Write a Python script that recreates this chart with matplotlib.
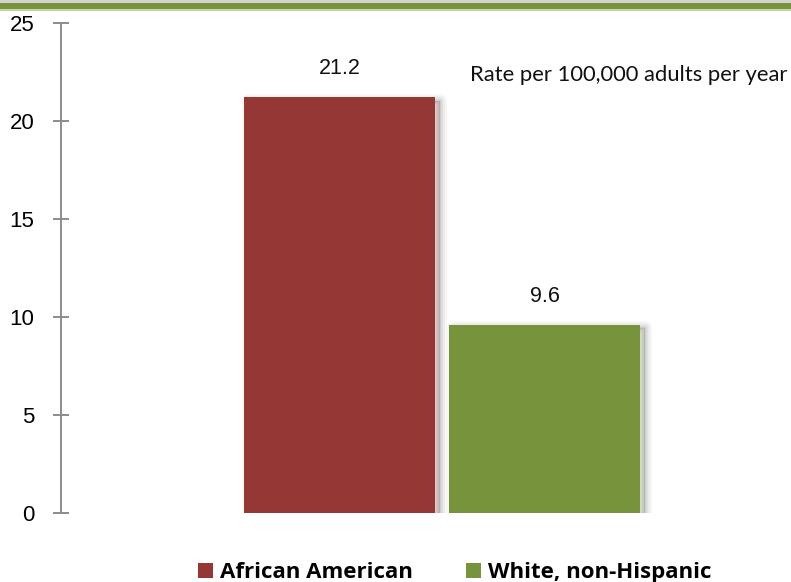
import matplotlib.pyplot as plt
import matplotlib.patheffects as pe
from matplotlib.patches import Rectangle, Patch

groups = ["African American", "White, non-Hispanic"]
rates = [21.2, 9.6]
value_labels = ["21.2", "9.6"]
colors = ["#953735", "#77933C"]
yticks = [0, 5, 10, 15, 20, 25]

fig = plt.figure(figsize=(7.91, 5.82), dpi=100)
ax = fig.add_axes([61 / 791, 69 / 582, 730 / 791, 490 / 582])

x = [0, 1]
bars = ax.bar(x, rates, width=0.932, color=colors, zorder=3)
# soft drop shadow, a few widened strokes stacked
shadow = []
for lw, a in [(10, 0.035), (7, 0.045), (4, 0.06), (1.5, 0.08)]:
    shadow.append(pe.Stroke(offset=(3.5, -2.5), linewidth=lw, foreground="black",
                            alpha=a, joinstyle="round"))
shadow.append(pe.Normal())
for b in bars:
    b.set_path_effects(shadow)

for xi, r, lab in zip(x, rates, value_labels):
    ax.text(xi, r + 0.92, lab, ha="center", va="bottom", fontsize=15.5,
            family="Liberation Sans", color="#111111")

ax.set_xlim(-1.359, 2.202)
ax.set_ylim(0, 25)
ax.set_yticks(yticks)
ax.set_xticks([])
for s in ["top", "right", "bottom"]:
    ax.spines[s].set_visible(False)
ax.spines["left"].set_color("#8c8c8c")
ax.spines["left"].set_linewidth(1.4)
ax.tick_params(axis="y", direction="inout", length=12, width=1.4, color="#8c8c8c",
               pad=13, labelsize=16)
for t in ax.get_yticklabels():
    t.set_family("Liberation Sans")
ax.patch.set_visible(False)

fig.text(470 / 791, 1 - 75 / 582, "Rate per 100,000 adults per year",
         fontsize=15.8, family="Lato", color="#111111", va="center", ha="left")

# top banner line
fig.add_artist(Rectangle((0, 1 - 3 / 582), 1, 3 / 582, transform=fig.transFigure,
                         color="#d2d2d2", lw=0))
fig.add_artist(Rectangle((0, 1 - 9 / 582), 1, 6 / 582, transform=fig.transFigure,
                         color="#77933C", lw=0))
fig.add_artist(Rectangle((0, 1 - 11 / 582), 1, 2 / 582, transform=fig.transFigure,
                         color="#c3d69b", lw=0))

handles = [Patch(facecolor=c, edgecolor="none") for c in colors]
leg = fig.legend(handles, groups, loc="lower left", bbox_to_anchor=(198 / 791, -1 / 582),
                 ncol=2, frameon=False, handlelength=0.68, handleheight=0.68,
                 handletextpad=0.32, columnspacing=2.38, borderpad=0, borderaxespad=0,
                 prop={"family": "Open Sans", "weight": "bold", "size": 16})

fig.savefig("out.png", dpi=100)
